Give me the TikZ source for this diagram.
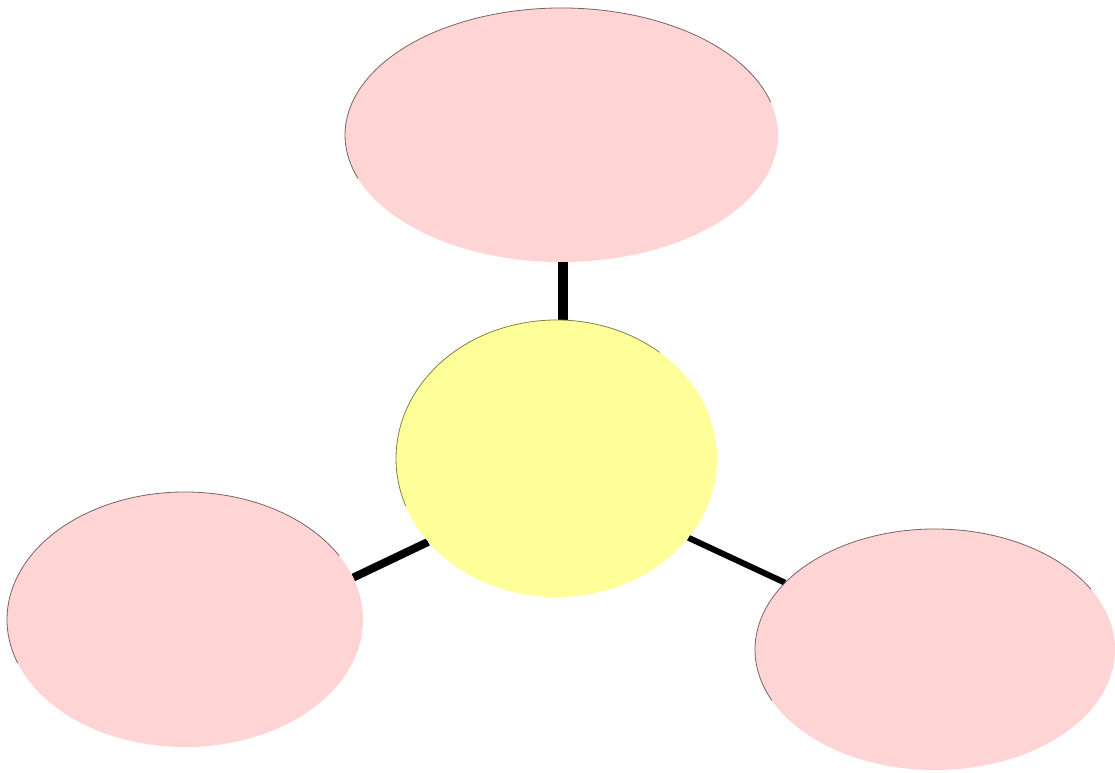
\documentclass[tikz,border=0pt]{standalone}
\usetikzlibrary{shapes.geometric,backgrounds}
\definecolor{petal}{RGB}{255,212,212}
\definecolor{core}{RGB}{255,255,153}
\definecolor{rimpink}{RGB}{120,100,100}
\definecolor{rimcore}{RGB}{130,130,70}
\begin{document}
\begin{tikzpicture}[x=1pt,y=1pt,
  blob/.style={ellipse,inner sep=0pt,fill=petal},
  hub/.style={ellipse,inner sep=0pt,fill=core},
  spoke/.style={line cap=butt,black}]
\useasboundingbox (0,0) rectangle (1115,772);
\node[blob,minimum width=433pt,minimum height=254pt] (top) at (561.5,637) {};
\node[hub,minimum width=321pt,minimum height=277pt] (c) at (556.5,313.5) {};
\node[blob,minimum width=356pt,minimum height=255pt] (l) at (185,152.5) {};
\node[blob,minimum width=360pt,minimum height=241pt] (r) at (935,122.5) {};
% rims on the upper-left side
\draw[rimpink,line width=0.8pt] ([shift={(15:216.5 and 127)}]top.center) arc[start angle=15,end angle=200,x radius=216.5,y radius=127];
\draw[rimcore,line width=0.8pt] ([shift={(50:160.5 and 138.5)}]c.center) arc[start angle=50,end angle=200,x radius=160.5,y radius=138.5];
\draw[rimpink,line width=0.8pt] ([shift={(30:178 and 127.5)}]l.center) arc[start angle=30,end angle=200,x radius=178,y radius=127.5];
\draw[rimpink,line width=0.8pt] ([shift={(30:180 and 120.5)}]r.center) arc[start angle=30,end angle=205,x radius=180,y radius=120.5];
\begin{scope}[on background layer]
\fill[white] (0,0) rectangle (1115,772);
\coordinate (ctop) at ([xshift=6.5pt]c.north);
\draw[spoke,line width=10pt] (ctop) -- (ctop |- top.south);
\draw[spoke,line width=8pt] (c.213.7) -- (l.14.2);
\draw[spoke,line width=6pt] (c.-31) -- (r.156.8);
\end{scope}
\end{tikzpicture}
\end{document}
